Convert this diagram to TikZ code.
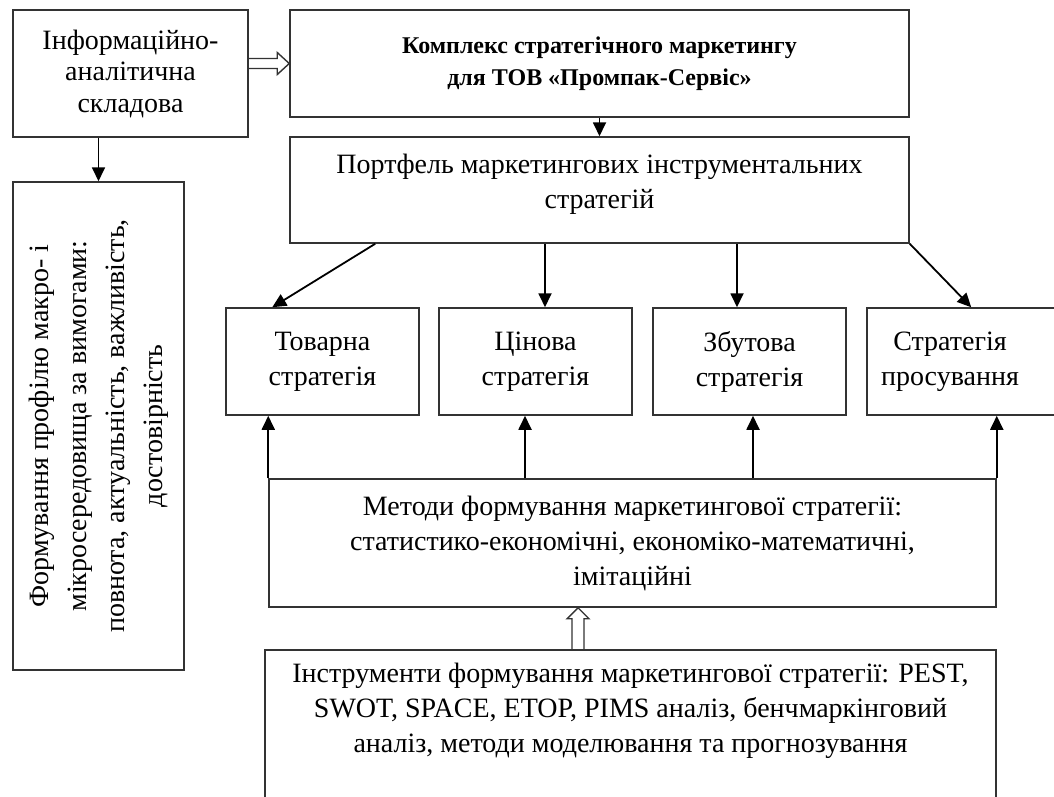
\documentclass[tikz,border=0pt]{standalone}
\usepackage{fontspec}
\setmainfont{Liberation Serif}
\usetikzlibrary{arrows.meta,positioning,calc}

\tikzset{
  blk/.style={draw=black!80, line width=1.5pt, align=center, inner sep=0pt},
  txt/.style={align=center, inner sep=0pt},
  arr/.style={-{Triangle[length=14pt,width=13pt]}, line width=1.8pt},
  hollow/.style={draw=black!80, line width=1.4pt, line join=miter},
}

\begin{document}
\begin{tikzpicture}[x=1pt, y=-1pt, every node/.style={font=\fontsize{28}{35}\selectfont}]
  \clip (0,0) rectangle (1054,796);
  % top row
  \node[blk, minimum width=235, minimum height=127, font=\fontsize{28}{31.5}\selectfont] (info) at (130.5,73.5)
    {Інформаційно-\\аналітична\\складова};
  \node[blk, minimum width=619, minimum height=107, font=\bfseries\fontsize{24}{32}\selectfont] (komp) at (599.5,63.5)
    {Комплекс стратегічного маркетингу\\для ТОВ «Промпак-Сервіс»};
  \node[blk, minimum width=619, minimum height=106] (portf) at (599.5,190) {};
  \node[txt] (portftext) at (599.5,184)
    {Портфель маркетингових інструментальних\\стратегій};

  % left column
  \node[blk, minimum width=171, minimum height=488] (prof) at (98.5,426) {};
  \node[txt, rotate=90, font=\fontsize{28}{38}\selectfont] (proftext) at (prof.center)
    {Формування профілю макро- і\\мікросередовища за вимогами:\\повнота, актуальність, важливість,\\достовірність};

  % strategies
  \node[blk, minimum width=193, minimum height=107] (tov) at (322.5,361.5) {Товарна\\стратегія};
  \node[blk, minimum width=193, minimum height=107] (tsin) at (535.5,361.5) {Цінова\\стратегія};
  \node[blk, minimum width=193, minimum height=107] (zbut) at (749.5,361.5) {Збутова\\стратегія};
  \node[blk, minimum width=223, minimum height=107] (pros) at (978.5,361.5) {};
  \node[txt] (prostext) at (950,361.5) {Стратегія\\просування};

  % methods and tools
  \node[blk, minimum width=727, minimum height=128] (meth) at (632.5,543)
    {Методи формування маркетингової стратегії:\\статистико-економічні, економіко-математичні,\\імітаційні};
  \node[blk, minimum width=731, minimum height=200] (instr) at (630.5,750) {};
  \node[txt] (instrtext) at (630.5,711)
    {Інструменти формування маркетингової стратегії: PEST,\\SWOT, SPACE, ETOP, PIMS аналіз, бенчмаркінговий\\аналіз, методи моделювання та прогнозування};

  \coordinate (up) at (578,0);
  \coordinate (h0) at (info.east |- komp.west);
  \coordinate (v0) at (instr.north -| up);
  \coordinate (v1) at (meth.south -| up);

  % hollow arrows
  \draw[hollow] ($(h0)+(0,-5)$) -- ($(komp.west)+(-12,-5)$) -- ($(komp.west)+(-12,-11)$)
    -- (komp.west) -- ($(komp.west)+(-12,11)$) -- ($(komp.west)+(-12,5)$) -- ($(h0)+(0,5)$);
  \draw[hollow] ($(v0)+(-6,0)$) -- ($(v1)+(-6,11)$) -- ($(v1)+(-11,11)$)
    -- (v1) -- ($(v1)+(11,11)$) -- ($(v1)+(6,11)$) -- ($(v0)+(6,0)$);

  % connectors
  \draw[arr] (info.south -| prof.north) -- (prof.north);
  \draw[arr] (komp.south) -- (portf.north);
  \draw[arr] ($(portf.south west)+(86,0)$) -- ($(tov.north west)+(47,0)$);
  \draw[arr] (portf.south -| 545,0) -- (tsin.north -| 545,0);
  \draw[arr] (portf.south -| 737,0) -- (zbut.north -| 737,0);
  \draw[arr] (portf.south east) -- ($(pros.north west)+(105,0)$);
  \draw[arr] (meth.north west) -- (meth.north west |- tov.south);
  \draw[arr] (meth.north -| 525,0) -- (tsin.south -| 525,0);
  \draw[arr] (meth.north -| 753,0) -- (zbut.south -| 753,0);
  \draw[arr] (meth.north east) -- (meth.north east |- pros.south);
\end{tikzpicture}
\end{document}
